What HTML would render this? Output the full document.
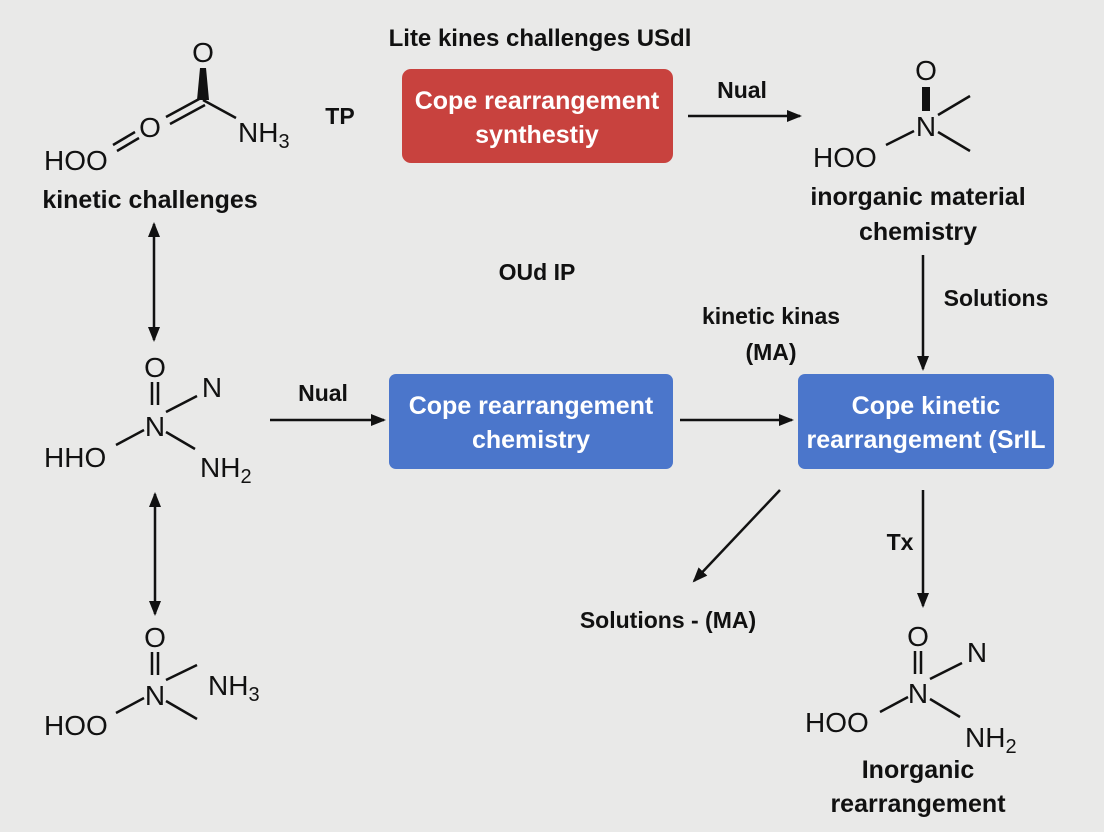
<!DOCTYPE html>
<html><head><meta charset="utf-8"><style>
html,body{margin:0;padding:0;background:#e9e9e8;}
svg{display:block;}
.b{font-family:"Liberation Sans",sans-serif;font-weight:bold;fill:#111;}
.m{font-family:"Liberation Sans",sans-serif;fill:#111;font-size:28px;}
.w{font-family:"Liberation Sans",sans-serif;font-weight:bold;fill:#fff;font-size:25px;}
line{stroke:#111;stroke-width:2.5;}
</style></head><body>
<svg width="1104" height="832" viewBox="0 0 1104 832">
<defs><marker id="a" markerWidth="16" markerHeight="14" refX="13" refY="7" orient="auto" markerUnits="userSpaceOnUse"><path d="M0,1 L15,7 L0,13 z" fill="#111"/></marker>
<marker id="s" markerWidth="16" markerHeight="14" refX="2" refY="7" orient="auto" markerUnits="userSpaceOnUse"><path d="M15,1 L0,7 L15,13 z" fill="#111"/></marker></defs>
<rect width="1104" height="832" fill="#e9e9e8"/>
<text class="b" x="540" y="46" font-size="24" text-anchor="middle">Lite kines challenges USdl</text>
<rect x="402" y="69" width="271" height="94" rx="9" fill="#c8423e"/>
<text class="w" x="537" y="109" text-anchor="middle">Cope rearrangement</text>
<text class="w" x="537" y="143" text-anchor="middle">synthestiy</text>
<text class="b" x="340" y="124" font-size="23" text-anchor="middle">TP</text>
<text class="b" x="742" y="98" font-size="23" text-anchor="middle">Nual</text>
<line x1="688" y1="116" x2="800" y2="116" marker-end="url(#a)"/>
<!-- mol1 -->
<text class="m" x="203" y="62" text-anchor="middle">O</text>
<path d="M200,68 L206,68 L209,100 L197,100 z" fill="#111"/>
<line x1="203" y1="100" x2="236" y2="118"/>
<line x1="201" y1="98" x2="166" y2="117"/><line x1="205" y1="105" x2="170" y2="124"/>
<text class="m" x="150" y="137" text-anchor="middle">O</text>
<line x1="135" y1="132" x2="113" y2="145"/><line x1="139" y1="138" x2="117" y2="151"/>
<text class="m" x="44" y="170">HOO</text>
<text class="m" x="238" y="142">NH<tspan font-size="20" dy="6">3</tspan></text>
<text class="b" x="150" y="208" font-size="25" text-anchor="middle">kinetic challenges</text>
<line x1="154" y1="224" x2="154" y2="340" marker-end="url(#a)" marker-start="url(#s)"/>
<!-- mol2 -->
<text class="m" x="155" y="377" text-anchor="middle">O</text>
<line x1="152" y1="382" x2="152" y2="405"/><line x1="158" y1="382" x2="158" y2="405"/>
<text class="m" x="155" y="436" text-anchor="middle">N</text>
<text class="m" x="212" y="397" text-anchor="middle">N</text>
<line x1="166" y1="412" x2="197" y2="396"/>
<line x1="166" y1="432" x2="195" y2="449"/>
<line x1="116" y1="445" x2="144" y2="430"/>
<text class="m" x="44" y="467">HHO</text>
<text class="m" x="200" y="477">NH<tspan font-size="20" dy="6">2</tspan></text>
<line x1="155" y1="494" x2="155" y2="614" marker-end="url(#a)" marker-start="url(#s)"/>
<!-- mol3 -->
<text class="m" x="155" y="647" text-anchor="middle">O</text>
<line x1="152" y1="652" x2="152" y2="675"/><line x1="158" y1="652" x2="158" y2="675"/>
<text class="m" x="155" y="705" text-anchor="middle">N</text>
<line x1="166" y1="680" x2="197" y2="665"/>
<line x1="166" y1="701" x2="197" y2="719"/>
<line x1="116" y1="713" x2="144" y2="698"/>
<text class="m" x="208" y="695">NH<tspan font-size="20" dy="6">3</tspan></text>
<text class="m" x="44" y="735">HOO</text>
<!-- middle -->
<text class="b" x="323" y="401" font-size="23" text-anchor="middle">Nual</text>
<line x1="270" y1="420" x2="384" y2="420" marker-end="url(#a)"/>
<rect x="389" y="374" width="284" height="95" rx="7" fill="#4b76cb"/>
<text class="w" x="531" y="414" text-anchor="middle">Cope rearrangement</text>
<text class="w" x="531" y="448" text-anchor="middle">chemistry</text>
<line x1="680" y1="420" x2="792" y2="420" marker-end="url(#a)"/>
<text class="b" x="537" y="280" font-size="23" text-anchor="middle">OUd IP</text>
<text class="b" x="771" y="324" font-size="23" text-anchor="middle">kinetic kinas</text>
<text class="b" x="771" y="360" font-size="23" text-anchor="middle">(MA)</text>
<rect x="798" y="374" width="256" height="95" rx="7" fill="#4b76cb"/>
<text class="w" x="926" y="414" text-anchor="middle">Cope kinetic</text>
<text class="w" x="926" y="448" text-anchor="middle">rearrangement (SrIL</text>
<!-- top right mol -->
<text class="m" x="926" y="80" text-anchor="middle">O</text>
<rect x="922" y="87" width="8" height="24" fill="#111"/>
<text class="m" x="926" y="136" text-anchor="middle">N</text>
<line x1="938" y1="115" x2="970" y2="96"/>
<line x1="938" y1="132" x2="970" y2="151"/>
<line x1="886" y1="145" x2="914" y2="131"/>
<text class="m" x="813" y="167">HOO</text>
<text class="b" x="918" y="205" font-size="25" text-anchor="middle">inorganic material</text>
<text class="b" x="918" y="240" font-size="25" text-anchor="middle">chemistry</text>
<line x1="923" y1="255" x2="923" y2="369" marker-end="url(#a)"/>
<text class="b" x="996" y="306" font-size="23" text-anchor="middle">Solutions</text>
<line x1="780" y1="490" x2="694" y2="581" marker-end="url(#a)"/>
<text class="b" x="668" y="628" font-size="23" text-anchor="middle">Solutions - (MA)</text>
<text class="b" x="900" y="550" font-size="23" text-anchor="middle">Tx</text>
<line x1="923" y1="490" x2="923" y2="606" marker-end="url(#a)"/>
<!-- mol4 -->
<text class="m" x="918" y="646" text-anchor="middle">O</text>
<line x1="915" y1="651" x2="915" y2="674"/><line x1="921" y1="651" x2="921" y2="674"/>
<text class="m" x="918" y="703" text-anchor="middle">N</text>
<text class="m" x="977" y="662" text-anchor="middle">N</text>
<line x1="930" y1="679" x2="962" y2="663"/>
<line x1="930" y1="699" x2="960" y2="717"/>
<line x1="880" y1="712" x2="908" y2="697"/>
<text class="m" x="805" y="732">HOO</text>
<text class="m" x="965" y="747">NH<tspan font-size="20" dy="6">2</tspan></text>
<text class="b" x="918" y="778" font-size="25" text-anchor="middle">Inorganic</text>
<text class="b" x="918" y="812" font-size="25" text-anchor="middle">rearrangement</text>
</svg>
</body></html>
